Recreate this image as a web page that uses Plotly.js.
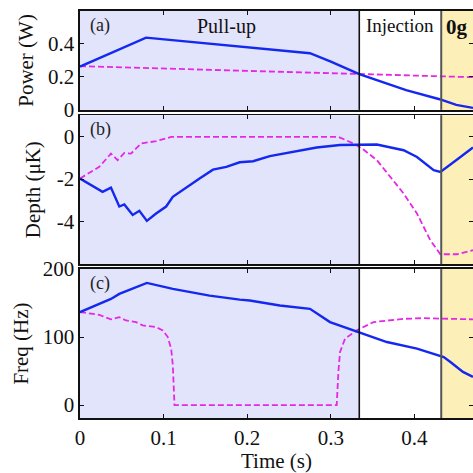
<!DOCTYPE html>
<html><head><meta charset="utf-8">
<script src="https://cdn.plot.ly/plotly-3.0.1.min.js"></script>
<style>body{margin:0;padding:0;background:#fff}#chart{width:473px;height:473px}</style>
</head><body><div id="chart"></div>
<script>
// Panel (a) Power
const tPowBlue = [0, 0.079, 0.275, 0.30, 0.334, 0.36, 0.39, 0.43, 0.45, 0.47];
const powBlue  = [0.26, 0.433, 0.34, 0.29, 0.215, 0.168, 0.118, 0.064, 0.03, 0.012];
const tPowMag  = [0, 0.334, 0.47];
const powMag   = [0.262, 0.215, 0.196];
// Panel (b) Depth
const tDepBlue = [0, 0.027, 0.037, 0.047, 0.053, 0.063, 0.071, 0.080, 0.091, 0.103, 0.111, 0.123, 0.143, 0.159, 0.175, 0.191, 0.207, 0.227, 0.259, 0.283, 0.311, 0.335, 0.355, 0.387, 0.403, 0.423, 0.431, 0.451, 0.470];
const depBlue  = [-1.97, -2.6, -2.4, -3.3, -3.2, -3.7, -3.5, -3.98, -3.63, -3.3, -2.84, -2.5, -1.97, -1.55, -1.42, -1.2, -1.15, -0.91, -0.66, -0.5, -0.38, -0.35, -0.36, -0.63, -0.95, -1.58, -1.66, -1.07, -0.5];
const tDepMag  = [0, 0.023, 0.037, 0.045, 0.053, 0.061, 0.073, 0.091, 0.109, 0.309, 0.327, 0.339, 0.355, 0.371, 0.387, 0.403, 0.419, 0.431, 0.451, 0.470];
const depMag   = [-1.97, -1.42, -0.79, -1.1, -0.76, -0.79, -0.31, -0.2, 0, 0, -0.31, -0.6, -1.1, -1.9, -2.68, -3.63, -4.9, -5.56, -5.56, -5.37];
// Panel (c) Freq
const tFrqBlue = [0, 0.037, 0.047, 0.080, 0.111, 0.155, 0.191, 0.203, 0.239, 0.275, 0.299, 0.333, 0.367, 0.403, 0.435, 0.443, 0.458, 0.470];
const frqBlue  = [136.6, 156, 163.5, 179.6, 170.8, 161, 155, 153.7, 146.4, 141.5, 122, 107.3, 92.7, 83, 70.7, 63.4, 48.8, 41.5];
const tFrqMag  = [0, 0.023, 0.037, 0.047, 0.055, 0.067, 0.075, 0.091, 0.099, 0.105, 0.109, 0.111, 0.113, 0.307, 0.309, 0.311, 0.317, 0.331, 0.351, 0.387, 0.411, 0.470];
const frqMag   = [136.6, 132.7, 126, 129.3, 124.4, 122, 117.1, 114.6, 109.8, 100, 83, 58.6, 0, 0, 48.8, 78, 97.6, 109.8, 122, 126.8, 127.8, 126];
const phaseEdges = [0.334, 0.432];
const phaseLabels = ["Pull-up", "Injection", "<b>0g</b>"];
const panelLabels = ["(a)", "(b)", "(c)"];

const blue = '#1428f0', mag = '#e528e5';
function ln(x, y, ya, dashed) {
  return {x: x, y: y, xaxis: 'x', yaxis: ya, mode: 'lines', type: 'scatter', showlegend: false,
    line: {color: dashed ? mag : blue, width: dashed ? 1.8 : 2.4, dash: dashed ? '6px,3px' : 'solid'}};
}
const data = [
  ln(tPowMag, powMag, 'y', true), ln(tPowBlue, powBlue, 'y', false),
  ln(tDepMag, depMag, 'y2', true), ln(tDepBlue, depBlue, 'y2', false),
  ln(tFrqMag, frqMag, 'y3', true), ln(tFrqBlue, frqBlue, 'y3', false)
];
const F = 'Liberation Serif, DejaVu Serif, serif';
const shapes = [];
const yrefs = ['y', 'y2', 'y3'];
yrefs.forEach(yr => {
  shapes.push({type: 'rect', xref: 'x', yref: yr + ' domain', x0: 0, x1: phaseEdges[0], y0: 0, y1: 1, fillcolor: '#e2e4fb', line: {width: 0}, layer: 'below'});
  shapes.push({type: 'rect', xref: 'x', yref: yr + ' domain', x0: phaseEdges[1], x1: 0.5, y0: 0, y1: 1, fillcolor: '#fdefb8', line: {width: 0}, layer: 'below'});
  shapes.push({type: 'line', xref: 'x', yref: yr + ' domain', x0: phaseEdges[0], x1: phaseEdges[0], y0: 0, y1: 1, line: {color: '#111', width: 1.6}});
  shapes.push({type: 'line', xref: 'x', yref: yr + ' domain', x0: phaseEdges[1], x1: phaseEdges[1], y0: 0, y1: 1, line: {color: '#555', width: 2}});
});
const axCommon = {showline: true, mirror: 'ticks', linecolor: '#111', linewidth: 1.6, ticks: 'inside', ticklen: 4, tickcolor: '#111', showgrid: false, zeroline: false, tickfont: {family: F, size: 21, color: '#111'}};
const annotations = [
  {text: panelLabels[0], xref: 'paper', yref: 'paper', x: 0.02, y: 0.995, xanchor: 'left', yanchor: 'top', showarrow: false, font: {family: F, size: 18, color: '#222'}},
  {text: panelLabels[1], xref: 'paper', yref: 'paper', x: 0.02, y: 0.74, xanchor: 'left', yanchor: 'top', showarrow: false, font: {family: F, size: 18, color: '#222'}},
  {text: panelLabels[2], xref: 'paper', yref: 'paper', x: 0.02, y: 0.362, xanchor: 'left', yanchor: 'top', showarrow: false, font: {family: F, size: 18, color: '#222'}},
  {text: phaseLabels[0], xref: 'x', yref: 'paper', x: 0.175, y: 0.995, yanchor: 'top', showarrow: false, font: {family: F, size: 20, color: '#111'}},
  {text: phaseLabels[1], xref: 'x', yref: 'paper', x: 0.383, y: 0.995, yanchor: 'top', showarrow: false, font: {family: F, size: 19, color: '#111'}},
  {text: phaseLabels[2], xref: 'x', yref: 'paper', x: 0.435, y: 0.995, xanchor: 'left', yanchor: 'top', showarrow: false, font: {family: F, size: 21, color: '#111'}}
];
const layout = {
  width: 473, height: 473, margin: {l: 80, r: 0, t: 11, b: 55},
  paper_bgcolor: '#fff', plot_bgcolor: '#fff',
  xaxis: Object.assign({}, axCommon, {range: [0, 0.47], tickvals: [0, 0.1, 0.2, 0.3, 0.4], ticktext: ['0', '0.1', '0.2', '0.3', '0.4'], anchor: 'y3',
    title: {text: 'Time (s)', font: {family: F, size: 21, color: '#111'}, standoff: 6}}),
  yaxis: Object.assign({}, axCommon, {domain: [0.757, 1], range: [0, 0.593], tickvals: [0, 0.2, 0.4], ticktext: ['0', '0.2', '0.4'], anchor: 'x',
    title: {text: 'Power (W)', font: {family: F, size: 21, color: '#111'}, standoff: 8}}),
  yaxis2: Object.assign({}, axCommon, {domain: [0.378, 0.744], range: [-6.03, 1.03], tickvals: [-4, -2, 0], ticktext: ['-4', '-2', '0'], anchor: 'x',
    title: {text: 'Depth (μK)', font: {family: F, size: 21, color: '#111'}, standoff: 10}}),
  yaxis3: Object.assign({}, axCommon, {domain: [0, 0.366], range: [-19, 200], tickvals: [0, 100, 200], ticktext: ['0', '100', '200'], anchor: 'x',
    title: {text: 'Freq (Hz)', font: {family: F, size: 21, color: '#111'}, standoff: 8}}),
  shapes: shapes, annotations: annotations
};
layout.xaxis2 = Object.assign({}, axCommon, {range: [0, 0.47], overlaying: 'x', anchor: 'y', showticklabels: false, tickvals: [0, 0.1, 0.2, 0.3, 0.4]});
layout.xaxis3 = Object.assign({}, axCommon, {range: [0, 0.47], overlaying: 'x', anchor: 'y2', showticklabels: false, tickvals: [0, 0.1, 0.2, 0.3, 0.4]});
data.push({x: [0], y: [0], xaxis: 'x2', yaxis: 'y', mode: 'markers', marker: {opacity: 0}, showlegend: false, hoverinfo: 'skip'});
data.push({x: [0], y: [0], xaxis: 'x3', yaxis: 'y2', mode: 'markers', marker: {opacity: 0}, showlegend: false, hoverinfo: 'skip'});
Plotly.newPlot('chart', data, layout, {staticPlot: true});
</script></body></html>
